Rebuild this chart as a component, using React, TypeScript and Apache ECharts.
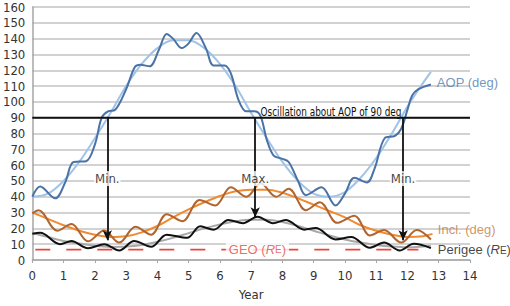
import React, { useEffect, useRef } from 'react';
import * as echarts from 'echarts';

// AOP (deg), oscillating
const aopYears = [0, 0.25, 0.73, 1.05, 1.32, 1.72, 2.0, 2.22, 2.42, 2.65, 3.0, 3.28, 3.45, 3.75, 4.05, 4.3, 4.5, 4.78, 5.0, 5.25, 5.55, 5.8, 6.15, 6.35, 6.6, 6.85, 7.1, 7.3, 7.5, 7.72, 8.0, 8.2, 8.5, 8.75, 9.25, 9.7, 10.0, 10.3, 10.7, 10.95, 11.27, 11.6, 11.8, 12.0, 12.15, 12.35, 12.75];
const aopValues = [40, 46.5, 39, 49, 62, 62.5, 73, 90, 94, 95, 108, 122, 123.5, 122.5, 133, 143, 140, 134, 137, 143.5, 134, 123, 123, 118, 101, 94, 94, 91, 76, 66, 64, 62, 50, 41, 46, 34.5, 42, 52, 49, 58, 77, 78.5, 83, 95, 104, 108, 111];
// AOP trend
const aopTrendYears = [0, 0.5, 1, 1.5, 2, 2.5, 3, 3.5, 4, 4.5, 5, 5.5, 6, 6.5, 7, 7.5, 8, 8.5, 9, 9.5, 10, 10.5, 11, 11.5, 12, 12.5, 12.75];
const aopTrendValues = [40, 42, 50, 62, 77, 93, 110, 124, 134, 139, 139, 134, 124, 110, 93, 77, 62, 50, 42, 40, 43, 52, 64.5, 80, 97, 112, 119];
// Inclination (deg), oscillating
const inclYears = [0, 0.2, 0.8, 1.25, 1.78, 2.3, 2.78, 3.3, 3.8, 4.3, 4.8, 5.35, 5.85, 6.35, 6.85, 7.3, 7.8, 8.2, 8.75, 9.2, 9.75, 10.3, 10.8, 11.25, 11.8, 12.3, 12.75];
const inclValues = [29.5, 31.5, 18.5, 22.7, 11.8, 18.6, 11, 21, 16, 29, 24.5, 38, 34.5, 46, 40, 48.5, 40, 45, 31.5, 36.5, 23.5, 28, 15.5, 19, 11, 19, 13];
// Inclination trend
const inclTrendYears = [0, 0.5, 1, 1.5, 2, 2.5, 3, 3.5, 4, 4.5, 5, 5.5, 6, 6.5, 7, 7.5, 8, 8.5, 9, 9.5, 10, 10.5, 11, 11.5, 12, 12.5, 12.8];
const inclTrendValues = [30, 26, 22, 18.5, 16, 14.5, 15, 17.5, 21.5, 27, 32, 36.5, 40.5, 43.5, 44.5, 44.5, 42.5, 39, 35, 31, 27, 22, 18.5, 16, 14.5, 15, 16.5];
// Perigee (R_E), oscillating
const perigeeYears = [0, 0.25, 0.89, 1.25, 1.78, 2.3, 2.78, 3.26, 3.8, 4.3, 4.95, 5.37, 5.8, 6.27, 6.74, 7.2, 7.7, 8.1, 8.7, 9.06, 9.7, 10.2, 10.8, 11.25, 11.75, 12.2, 12.75];
const perigeeValues = [16.6, 17.2, 10, 12, 7.4, 10, 6, 12, 8.4, 16, 14, 21.3, 19.2, 25.3, 23.3, 27.4, 23.3, 25.3, 19.2, 20.2, 13, 14.5, 7.7, 11, 6, 10.2, 7.5];
// Perigee trend
const perigeeTrendYears = [0, 0.5, 1, 1.5, 2, 2.5, 3, 3.5, 4, 4.5, 5, 5.5, 6, 6.5, 7, 7.5, 8, 8.5, 9, 9.5, 10, 10.5, 11, 11.5, 12, 12.5, 12.75];
const perigeeTrendValues = [17, 14.5, 12, 10.5, 9, 8.3, 8.5, 9.5, 11.5, 14, 17, 20, 22.5, 24.5, 25.5, 25.5, 24, 21.5, 18.5, 15.5, 13, 11, 9.5, 8.5, 8, 8.5, 9];

// Reference lines
const geoRadius = 6.6;
const geoSpan = [0, 12.35];
const aopCenter = 90;
const centerSpan = [0, 14];
// Arrows from the 90 deg line
const arrowYears = [2.4, 7.13, 11.86];
const arrowEnds = [12.5, 27, 12.5];
const arrowLabels = ['Min.', 'Max.', 'Min.'];
const arrowLabelLevel = 51.5;
const oscillationText = 'Oscillation about AOP of 90 deg';
const oscillationAnchor = [7.3, 93.8];

const zip = (xs: number[], ys: number[]) => xs.map((x, i) => [x, ys[i]]);

const narrow = "'Liberation Sans Narrow', 'DejaVu Sans Condensed', sans-serif";
const arial = "'Liberation Sans', Arial, sans-serif";

export default function App() {
  const ref = useRef<HTMLDivElement>(null);
  useEffect(() => {
    const chart = echarts.init(ref.current!, null, { renderer: 'svg' });
    const lineBase = { type: 'line', smooth: 0.35, symbol: 'none', silent: true };
    chart.setOption({
      animation: false,
      grid: { left: 27, right: 40, top: 7, bottom: 38 },
      xAxis: {
        type: 'value', min: 0, max: 14, interval: 1,
        name: 'Year', nameLocation: 'middle', nameGap: 28,
        nameTextStyle: { fontFamily: narrow, fontSize: 13, color: '#333' },
        axisLine: { show: true, lineStyle: { color: '#a6a6a6', width: 1.5 } },
        axisTick: { show: true, length: 3, lineStyle: { color: '#a6a6a6' } },
        axisLabel: { fontFamily: narrow, fontSize: 13, color: '#333', margin: 9 },
        splitLine: { show: false },
      },
      yAxis: {
        type: 'value', min: 0, max: 160, interval: 10,
        axisLine: { show: true, lineStyle: { color: '#a6a6a6', width: 1.5 } },
        axisTick: { show: false },
        axisLabel: { fontFamily: narrow, fontSize: 13, color: '#333', margin: 7 },
        splitLine: { show: true, lineStyle: { color: '#c3c3c3', width: 1.5 } },
      },
      series: [
        { ...lineBase, name: 'aopTrend', data: zip(aopTrendYears, aopTrendValues), lineStyle: { color: '#9fc4e7', width: 2 } },
        { ...lineBase, name: 'aop', data: zip(aopYears, aopValues), lineStyle: { color: '#4a72a6', width: 2 } },
        { ...lineBase, name: 'inclTrend', data: zip(inclTrendYears, inclTrendValues), lineStyle: { color: '#ef8a33', width: 2 } },
        { ...lineBase, name: 'incl', data: zip(inclYears, inclValues), lineStyle: { color: '#b0652e', width: 2 } },
        { ...lineBase, name: 'perigeeTrend', data: zip(perigeeTrendYears, perigeeTrendValues), lineStyle: { color: '#a8a8a8', width: 2 } },
        { ...lineBase, name: 'perigee', data: zip(perigeeYears, perigeeValues), lineStyle: { color: '#111', width: 2 } },
        {
          ...lineBase, smooth: false, name: 'geo',
          data: geoSpan.map((x) => [x, geoRadius]),
          lineStyle: { color: '#e8473c', width: 1.8, type: [15, 16], dashOffset: 28 },
        },
        {
          ...lineBase, smooth: false, name: 'center',
          data: centerSpan.map((x) => [x, aopCenter]),
          lineStyle: { color: '#111', width: 2 },
          markLine: {
            silent: true,
            symbol: ['none', 'arrow'],
            symbolSize: [7, 10],
            label: { show: false },
            lineStyle: { color: '#111', width: 1.8, type: 'solid' },
            data: arrowYears.map((x, i) => [{ coord: [x, aopCenter] }, { coord: [x, arrowEnds[i]] }]),
          },
        },
        {
          type: 'scatter', silent: true, symbolSize: 0, z: 10,
          data: [
            ...arrowYears.map((x, i) => ({
              value: [x, arrowLabelLevel],
              label: {
                show: true, position: 'inside', formatter: arrowLabels[i],
                fontFamily: narrow, fontSize: 13, color: '#111',
                backgroundColor: '#fff', padding: [1, 1],
              },
            })),
            {
              value: [12.94, 112],
              label: { show: true, position: 'right', distance: 0, formatter: 'AOP (deg)', fontFamily: arial, fontSize: 13, color: '#4f79ad' },
            },
            {
              value: [12.97, 19],
              label: { show: true, position: 'right', distance: 0, formatter: 'Incl. (deg)', fontFamily: arial, fontSize: 13, color: '#c47a40' },
            },
            {
              value: [12.97, 6.7],
              label: {
                show: true, position: 'right', distance: 0, formatter: 'Perigee ({i|R}{s|E})',
                fontFamily: arial, fontSize: 13, color: '#111',
                rich: { i: { fontFamily: arial, fontSize: 13, fontStyle: 'italic', color: '#111' }, s: { fontFamily: arial, fontSize: 10, color: '#111', verticalAlign: 'bottom' } },
              },
            },
            {
              value: [7.2, geoRadius],
              label: {
                show: true, position: 'inside', formatter: 'GEO ({i|R}{s|E})',
                fontFamily: arial, fontSize: 13, color: '#e8473c', backgroundColor: '#fff', padding: [0, 3],
                rich: { i: { fontFamily: arial, fontSize: 13, fontStyle: 'italic', color: '#e8473c' }, s: { fontFamily: arial, fontSize: 10, color: '#e8473c' } },
              },
            },
          ],
        },
      ],
    });
    const p = chart.convertToPixel({ gridIndex: 0 }, oscillationAnchor) as number[];
    chart.setOption({
      graphic: [
        {
          type: 'text', x: p[0], y: p[1], scaleX: 0.76, silent: true, z: 20,
          style: { text: oscillationText, fontFamily: narrow, fontSize: 13, fill: '#111', align: 'left', verticalAlign: 'middle' },
        },
      ],
    });
    return () => chart.dispose();
  }, []);
  return <div ref={ref} style={{ position: 'absolute', left: 0, top: 0, width: 510, height: 306 }} />;
}
